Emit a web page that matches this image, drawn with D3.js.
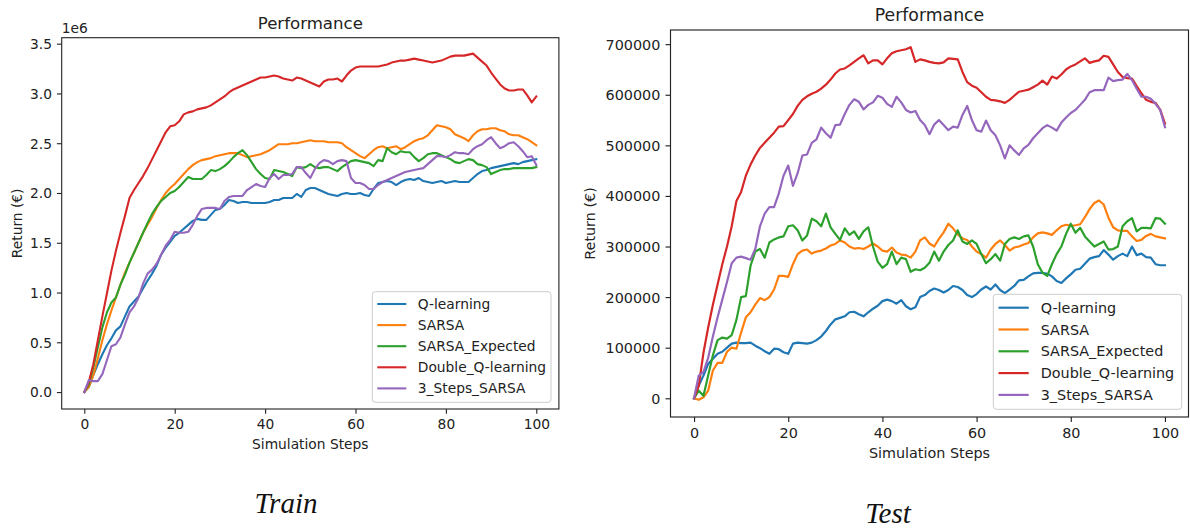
<!DOCTYPE html>
<html>
<head>
<meta charset="utf-8">
<script src="https://cdn.jsdelivr.net/npm/d3@7"></script>
<style>
  body { margin: 0; background: #fff; }
  svg { display: block; font-family: "DejaVu Sans", sans-serif; }
</style>
</head>
<body>
<svg id="chart" width="1190" height="530"></svg>
<script>
// Two matplotlib-style panels: training and test returns per agent.
const seriesNames = ["Q-learning", "SARSA", "SARSA_Expected", "Double_Q-learning", "3_Steps_SARSA"];
const seriesColors = ["#1f77b4", "#ff7f0e", "#2ca02c", "#d62728", "#9467bd"];
const steps = d3.range(0, 101);
const xTicks = [0, 20, 40, 60, 80, 100];

// Train returns, in millions of euros (axis shows the 1e6 offset)
const trainYTicks = [0, 0.5, 1, 1.5, 2, 2.5, 3, 3.5];
const trainQ = [
  0, 0.05, 0.17, 0.28, 0.38, 0.47, 0.54, 0.62, 0.66, 0.76,
  0.86, 0.91, 0.96, 1.04, 1.12, 1.19, 1.27, 1.38, 1.45, 1.51,
  1.57, 1.6, 1.64, 1.68, 1.72, 1.74, 1.73, 1.73, 1.78, 1.83,
  1.84, 1.88, 1.93, 1.92, 1.9, 1.91, 1.91, 1.9, 1.9, 1.9,
  1.9, 1.91, 1.93, 1.93, 1.95, 1.95, 1.95, 1.99, 1.96, 2.03,
  2.05, 2.05, 2.03, 2.01, 1.99, 1.98, 1.97, 1.99, 2.0, 1.99,
  1.99, 2.0, 1.98, 1.97, 2.04, 2.1, 2.11, 2.12, 2.11, 2.08,
  2.11, 2.13, 2.14, 2.13, 2.15, 2.12, 2.11, 2.1, 2.11, 2.12,
  2.1, 2.11, 2.12, 2.11, 2.11, 2.11, 2.15, 2.19, 2.22, 2.23,
  2.25, 2.26, 2.27, 2.28, 2.29, 2.3, 2.29, 2.31, 2.32, 2.33, 2.34
];
const trainSarsa = [
  0, 0.05, 0.17, 0.34, 0.52, 0.68, 0.82, 0.95, 1.08, 1.2,
  1.3, 1.4, 1.5, 1.6, 1.68, 1.76, 1.85, 1.93, 2.0, 2.05,
  2.09, 2.14, 2.19, 2.24, 2.28, 2.31, 2.33, 2.34, 2.35, 2.37,
  2.38, 2.39, 2.4, 2.4, 2.4, 2.38, 2.36, 2.37, 2.38, 2.39,
  2.41, 2.43, 2.46, 2.49, 2.49, 2.49, 2.5, 2.5, 2.51, 2.52,
  2.53, 2.52, 2.52, 2.52, 2.51, 2.51, 2.51, 2.5, 2.46, 2.43,
  2.4, 2.37, 2.35, 2.39, 2.43, 2.46, 2.47, 2.45, 2.46, 2.47,
  2.44, 2.46, 2.49, 2.52, 2.54, 2.55, 2.58, 2.63, 2.68, 2.67,
  2.66, 2.64, 2.59, 2.57, 2.55, 2.52, 2.58, 2.62, 2.64, 2.64,
  2.65, 2.65, 2.63, 2.62, 2.59, 2.58, 2.58, 2.56, 2.54, 2.51, 2.48
];
const trainExpected = [
  0, 0.08, 0.25, 0.45, 0.65, 0.8, 0.9, 0.95, 1.08, 1.18,
  1.3, 1.4, 1.5, 1.6, 1.7, 1.79, 1.86, 1.92, 1.96, 2.0,
  2.02, 2.06, 2.11, 2.16, 2.14, 2.14, 2.14, 2.18, 2.23, 2.22,
  2.24, 2.27, 2.31, 2.36, 2.4, 2.43, 2.38, 2.31, 2.24, 2.19,
  2.15, 2.14, 2.23, 2.22, 2.21, 2.19, 2.17, 2.26, 2.25, 2.26,
  2.29, 2.26, 2.25, 2.26, 2.26, 2.24, 2.22, 2.26, 2.29, 2.32,
  2.33, 2.32, 2.31, 2.3, 2.27, 2.33, 2.32, 2.45, 2.41, 2.39,
  2.42, 2.41, 2.41, 2.36, 2.32, 2.35, 2.39, 2.4, 2.4, 2.38,
  2.36, 2.34, 2.31, 2.3, 2.32, 2.34, 2.33, 2.29, 2.28, 2.26,
  2.19, 2.21, 2.23, 2.24, 2.24, 2.25, 2.25, 2.25, 2.25, 2.25, 2.26
];
const trainDouble = [
  0, 0.1, 0.28, 0.52, 0.76, 0.99, 1.22, 1.42, 1.6, 1.77,
  1.95, 2.03, 2.1, 2.17, 2.25, 2.34, 2.43, 2.52, 2.61, 2.67,
  2.68, 2.72, 2.79, 2.81, 2.82, 2.84, 2.85, 2.86, 2.88, 2.91,
  2.94, 2.97, 3.01, 3.04, 3.06, 3.08, 3.1, 3.12, 3.14, 3.16,
  3.16, 3.17, 3.18, 3.17, 3.15, 3.14, 3.13, 3.16, 3.15, 3.13,
  3.11, 3.09, 3.07, 3.12, 3.14, 3.14, 3.15, 3.12, 3.18, 3.23,
  3.26, 3.27, 3.27, 3.27, 3.27, 3.27, 3.28, 3.29, 3.31, 3.32,
  3.33, 3.33, 3.34, 3.35, 3.34, 3.33, 3.32, 3.31, 3.32, 3.33,
  3.35, 3.37, 3.38, 3.38, 3.38, 3.39, 3.4, 3.36, 3.32, 3.28,
  3.21, 3.15, 3.09, 3.05, 3.03, 3.03, 3.04, 3.04, 2.98, 2.91, 2.97
];
const trainSteps3 = [
  0, 0.12, 0.11, 0.11, 0.18, 0.32, 0.46, 0.48, 0.55, 0.68,
  0.8, 0.86, 0.95, 1.09, 1.19, 1.23, 1.29, 1.38, 1.47, 1.53,
  1.61, 1.6, 1.6, 1.61, 1.68, 1.77, 1.84, 1.85, 1.85, 1.85,
  1.84, 1.92, 1.96, 1.97, 1.97, 1.97, 2.03, 2.06, 2.09, 2.07,
  2.06, 2.15, 2.19, 2.14, 2.18, 2.18, 2.19, 2.26, 2.26, 2.2,
  2.15, 2.24, 2.3, 2.33, 2.32, 2.29, 2.32, 2.33, 2.32, 2.15,
  2.1, 2.1, 2.08, 2.04, 2.04, 2.08, 2.11, 2.13, 2.15, 2.17,
  2.19, 2.21, 2.22, 2.23, 2.24, 2.25, 2.29, 2.33, 2.37, 2.37,
  2.36, 2.38, 2.41, 2.4, 2.4, 2.39, 2.44, 2.47, 2.49, 2.53,
  2.56, 2.5, 2.45, 2.47, 2.5, 2.51, 2.47, 2.42, 2.36, 2.37, 2.28
];

// Test returns, in thousands of euros
const testYTicks = [0, 100, 200, 300, 400, 500, 600, 700];
const testQ = [
  0, 25, 45, 68, 78, 88, 92, 100, 108, 110,
  109, 109, 110, 104, 99, 93, 88, 98, 97, 91,
  88, 108, 110, 109, 108, 110, 115, 122, 133, 146,
  156, 159, 162, 170, 171, 166, 162, 170, 177, 183,
  192, 195, 192, 187, 194, 182, 176, 180, 200, 204,
  212, 217, 214, 209, 214, 222, 220, 214, 204, 200,
  206, 215, 221, 215, 225, 214, 208, 215, 222, 233,
  234, 241, 247, 248, 248, 246, 241, 232, 228, 237,
  245, 254, 256, 266, 276, 279, 281, 293, 284, 274,
  281, 286, 281, 300, 283, 286, 279, 278, 265, 263, 263
];
const testSarsa = [
  0, -3, 2, 15, 55, 70, 70, 92, 100, 98,
  130, 160, 170, 185, 198, 194, 200, 215, 242, 242,
  240, 265, 285, 292, 294, 286, 290, 292, 296, 302,
  305, 312, 308, 300, 296, 297, 295, 300, 306, 300,
  292, 290, 298, 288, 284, 283, 278, 290, 312, 318,
  306, 300, 315, 328, 345, 336, 324, 316, 313, 300,
  290, 285, 278, 294, 305, 312, 303, 292, 298, 300,
  304, 307, 318, 326, 328, 326, 323, 332, 340, 343,
  341, 342, 344, 358, 374, 386, 391, 383, 357, 338,
  332, 331, 331, 320, 311, 313, 321, 325, 320, 318, 316
];
const testExpected = [
  0, 15, 5, 45, 85, 115, 120, 118, 125, 155,
  200, 202, 262, 290, 295, 278, 308, 314, 318, 320,
  340, 342, 332, 312, 322, 355, 350, 340, 365, 338,
  325, 313, 336, 323, 330, 315, 330, 338, 300, 270,
  258, 265, 290, 265, 278, 275, 250, 255, 253, 258,
  268, 290, 272, 290, 303, 312, 332, 310, 305, 312,
  305, 285, 267, 275, 285, 272, 305, 315, 318, 315,
  320, 322, 300, 265, 248, 242, 265, 285, 300, 325,
  345, 327, 337, 320, 310, 300, 305, 310, 294, 295,
  300, 340, 350, 356, 330, 337, 337, 336, 356, 355, 345
];
const testDouble = [
  0, 25, 90, 140, 185, 225, 265, 300, 340, 390,
  408, 440, 462, 480, 495, 505, 515, 525, 537, 538,
  550, 562, 578, 590, 597, 602, 606, 612, 620, 630,
  642, 650, 652, 658, 665, 672, 678, 662, 668, 668,
  660, 672, 682, 686, 688, 690, 694, 665, 670, 668,
  665, 663, 662, 664, 672, 671, 670, 645, 625, 618,
  614, 605, 596, 590, 589, 587, 584, 590, 598, 606,
  608, 610, 615, 620, 628, 620, 636, 632, 640, 650,
  656, 660, 666, 672, 663, 666, 668, 677, 675, 660,
  645, 635, 633, 632, 617, 603, 590, 586, 584, 570, 543
];
const testSteps3 = [
  0, 45, 52, 80, 122, 160, 195, 230, 267, 278,
  280, 277, 274, 295, 340, 365, 378, 378, 405, 440,
  460, 420, 445, 480, 482, 505, 512, 535, 524, 515,
  540, 541, 562, 580, 591, 586, 571, 580, 585, 598,
  594, 582, 576, 596, 585, 570, 565, 568, 550, 540,
  522, 541, 550, 540, 530, 537, 535, 560, 578, 550,
  530, 527, 549, 530, 520, 500, 474, 500, 490, 481,
  494, 501, 514, 524, 534, 540, 535, 529, 545, 555,
  564, 570, 580, 590, 605, 609, 609, 609, 634, 627,
  629, 630, 641, 629, 612, 596, 596, 592, 582, 570, 536
];

const svg = d3.select("#chart");

function drawPanel(p) {
  const k = p.k;
  const fs = 13.8 * k;
  const tickLen = 4.8 * k;
  const pad = 4.9 * k;
  const ink = "#222";

  const x = d3.scaleLinear().domain([-5, 105]).range([p.left, p.right]);
  const y = d3.scaleLinear().domain(p.yDomain).range([p.bottom, p.top]);
  const g = svg.append("g");

  // lines
  const line = d3.line().x((d, i) => x(steps[i])).y(d => y(d));
  p.series.forEach((vals, si) => {
    g.append("path")
      .datum(vals)
      .attr("d", line)
      .attr("fill", "none")
      .attr("stroke", seriesColors[si])
      .attr("stroke-width", 2.1 * k)
      .attr("stroke-linejoin", "round")
      .attr("stroke-linecap", "square");
  });

  // x axis
  const xAxis = d3.axisBottom(x).tickValues(xTicks).tickSize(tickLen).tickPadding(pad);
  const ga = g.append("g").attr("transform", `translate(0,${p.bottom})`).call(xAxis);
  // y axis
  const yAxis = d3.axisLeft(y).tickValues(p.yTicks).tickSize(tickLen).tickPadding(pad).tickFormat(p.yFormat);
  const gb = g.append("g").attr("transform", `translate(${p.left},0)`).call(yAxis);
  [ga, gb].forEach(a => {
    a.select(".domain").remove();
    a.selectAll("line").attr("stroke", ink).attr("stroke-width", 1.1 * k);
    a.selectAll("text").attr("fill", ink).style("font-size", fs + "px").style("font-family", "DejaVu Sans");
  });
  gb.selectAll("text").attr("dy", "0.35em");
  ga.selectAll("text").attr("dy", "0.76em");

  // frame
  g.append("rect")
    .attr("x", p.left).attr("y", p.top)
    .attr("width", p.right - p.left).attr("height", p.bottom - p.top)
    .attr("fill", "none").attr("stroke", ink).attr("stroke-width", 1.1 * k);

  const cx = (p.left + p.right) / 2;
  g.append("text").attr("x", cx).attr("y", p.top - 8.3 * k)
    .attr("text-anchor", "middle").attr("fill", ink)
    .style("font-size", (16.6 * k) + "px").text("Performance");
  g.append("text").attr("x", cx).attr("y", p.xLabelY)
    .attr("text-anchor", "middle").attr("fill", ink)
    .style("font-size", fs + "px").text("Simulation Steps");
  g.append("text")
    .attr("transform", `translate(${p.yLabelX},${(p.top + p.bottom) / 2}) rotate(-90)`)
    .attr("text-anchor", "middle").attr("fill", ink)
    .style("font-size", fs + "px").text("Return (€)");
  if (p.offset) {
    g.append("text").attr("x", p.left).attr("y", p.top - 5)
      .attr("fill", ink).style("font-size", fs + "px").text(p.offset);
  }

  // legend
  const L = p.legend;
  g.append("rect")
    .attr("x", L.x).attr("y", L.y).attr("width", L.w).attr("height", L.h)
    .attr("rx", 3 * k)
    .attr("fill", "#fff").attr("fill-opacity", 0.8)
    .attr("stroke", "#cccccc").attr("stroke-width", 1);
  seriesNames.forEach((name, i) => {
    const ry = L.y + L.first + i * L.step;
    g.append("line")
      .attr("x1", L.x + 5 * k).attr("x2", L.x + 34 * k)
      .attr("y1", ry).attr("y2", ry)
      .attr("stroke", seriesColors[i]).attr("stroke-width", 2.1 * k);
    g.append("text")
      .attr("x", L.x + 45.5 * k).attr("y", ry).attr("dy", "0.35em")
      .attr("fill", ink).style("font-size", fs + "px").text(name);
  });

  // caption underneath, LaTeX-like italic
  g.append("text")
    .attr("x", p.caption.x).attr("y", p.caption.y)
    .attr("text-anchor", "middle").attr("fill", "#111")
    .style("font-family", "'Liberation Serif', serif")
    .style("font-style", "italic")
    .style("font-size", "29px")
    .text(p.caption.text);
}

drawPanel({
  k: 1,
  left: 61.7, right: 558.9, top: 37.7, bottom: 409,
  yDomain: [-0.17, 3.56],
  yTicks: trainYTicks,
  yFormat: d3.format(".1f"),
  series: [trainQ, trainSarsa, trainExpected, trainDouble, trainSteps3],
  xLabelY: 449, yLabelX: 21.5,
  offset: "1e6",
  legend: { x: 372.3, y: 291.7, w: 178.7, h: 110.6, first: 12.3, step: 21.1 },
  caption: { text: "Train", x: 286, y: 513 }
});

drawPanel({
  k: 1.042,
  left: 670.5, right: 1188.5, top: 30, bottom: 417,
  yDomain: [-37, 728],
  yTicks: testYTicks,
  yFormat: d => String(d * 1000),
  series: [testQ, testSarsa, testExpected, testDouble, testSteps3],
  xLabelY: 457.5, yLabelX: 594.5,
  offset: null,
  legend: { x: 993.3, y: 294.3, w: 188.4, h: 115, first: 13.4, step: 21.8 },
  caption: { text: "Test", x: 888, y: 523 }
});
</script>
</body>
</html>
